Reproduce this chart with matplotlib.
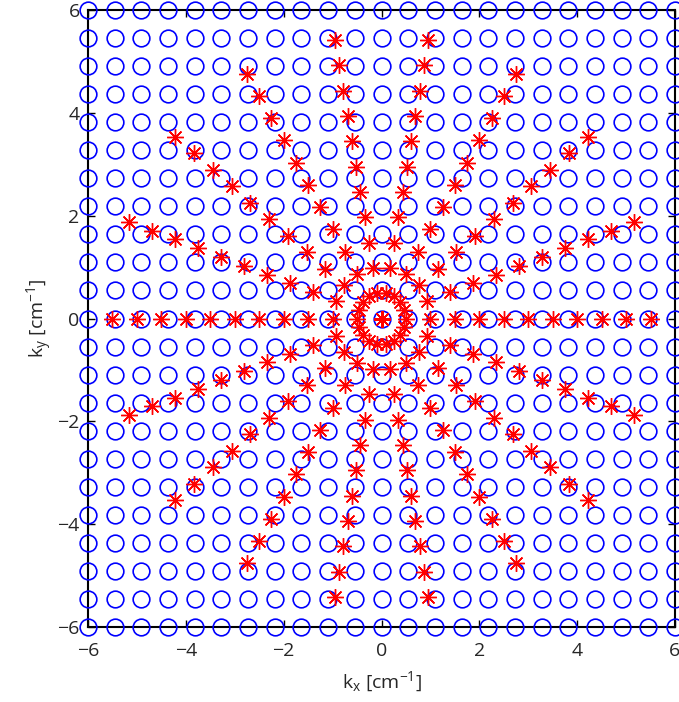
import numpy as np
import matplotlib.pyplot as plt
from matplotlib import font_manager

# Cartesian sampling grid (23 x 23 over [-6, 6])
grid_k = [-6.0, -5.4545, -4.9091, -4.3636, -3.8182, -3.2727, -2.7273, -2.1818,
          -1.6364, -1.0909, -0.5455, 0.0, 0.5455, 1.0909, 1.6364, 2.1818,
          2.7273, 3.2727, 3.8182, 4.3636, 4.9091, 5.4545, 6.0]

# radial (polar) sampling: spokes every 20 deg, radii in steps of 0.5
spoke_angles_deg = [0, 20, 40, 60, 80, 100, 120, 140, 160,
                    180, 200, 220, 240, 260, 280, 300, 320, 340]
spoke_radii = [0.0, 0.5, 1.0, 1.5, 2.0, 2.5, 3.0, 3.5, 4.0, 4.5, 5.0, 5.5]

ticks = [-6, -4, -2, 0, 2, 4, 6]
tick_labels = ['\u22126', '\u22124', '\u22122', '0', '2', '4', '6']

fam = 'Open Sans'
try:
    font_manager.findfont(fam, fallback_to_default=False)
except Exception:
    fam = 'DejaVu Sans'
plt.rcParams['font.family'] = [fam, 'DejaVu Sans']
plt.rcParams['mathtext.fontset'] = 'custom'
plt.rcParams['mathtext.rm'] = fam
plt.rcParams['mathtext.it'] = fam

px = 1. / 100
fig = plt.figure(figsize=(679 * px, 702 * px), dpi=100)
ax = fig.add_axes([88 / 679, 1 - 627 / 702, 587 / 679, 617 / 702])

gx, gy = np.meshgrid(grid_k, grid_k)
ax.plot(gx.ravel(), gy.ravel(), 'o', ls='none', mfc='none', mec=(0, 0, 1),
        ms=12, mew=1.2, clip_on=False, zorder=2)

th = np.deg2rad(spoke_angles_deg)
r = np.asarray(spoke_radii)
sx = np.outer(np.cos(th), r).ravel()
sy = np.outer(np.sin(th), r).ravel()
ax.plot(sx, sy, ls='none', marker=(8, 2, 0), mec=(1, 0, 0), mfc=(1, 0, 0),
        ms=12, mew=1.0, clip_on=False, zorder=3)

ax.set_xlim(-6, 6)
ax.set_ylim(-6, 6)
ax.set_xticks(ticks)
ax.set_yticks(ticks)
ax.set_xticklabels(tick_labels)
ax.set_yticklabels(tick_labels)
ax.tick_params(direction='in', length=5, width=1, top=True, right=True,
               labelsize=14, labelcolor='#262626')
ax.tick_params(axis='x', pad=11)
ax.tick_params(axis='y', pad=6)
for s in ax.spines.values():
    s.set_linewidth(1.5)
    s.set_zorder(1)

ax.set_xlabel(r'k$_{\rm x}$ [cm$^{-1}$]', fontsize=14, color='#262626', labelpad=7)
ax.set_ylabel(r'k$_{\rm y}$ [cm$^{-1}$]', fontsize=14, color='#262626', labelpad=2)

fig.savefig('out.png', dpi=100)
